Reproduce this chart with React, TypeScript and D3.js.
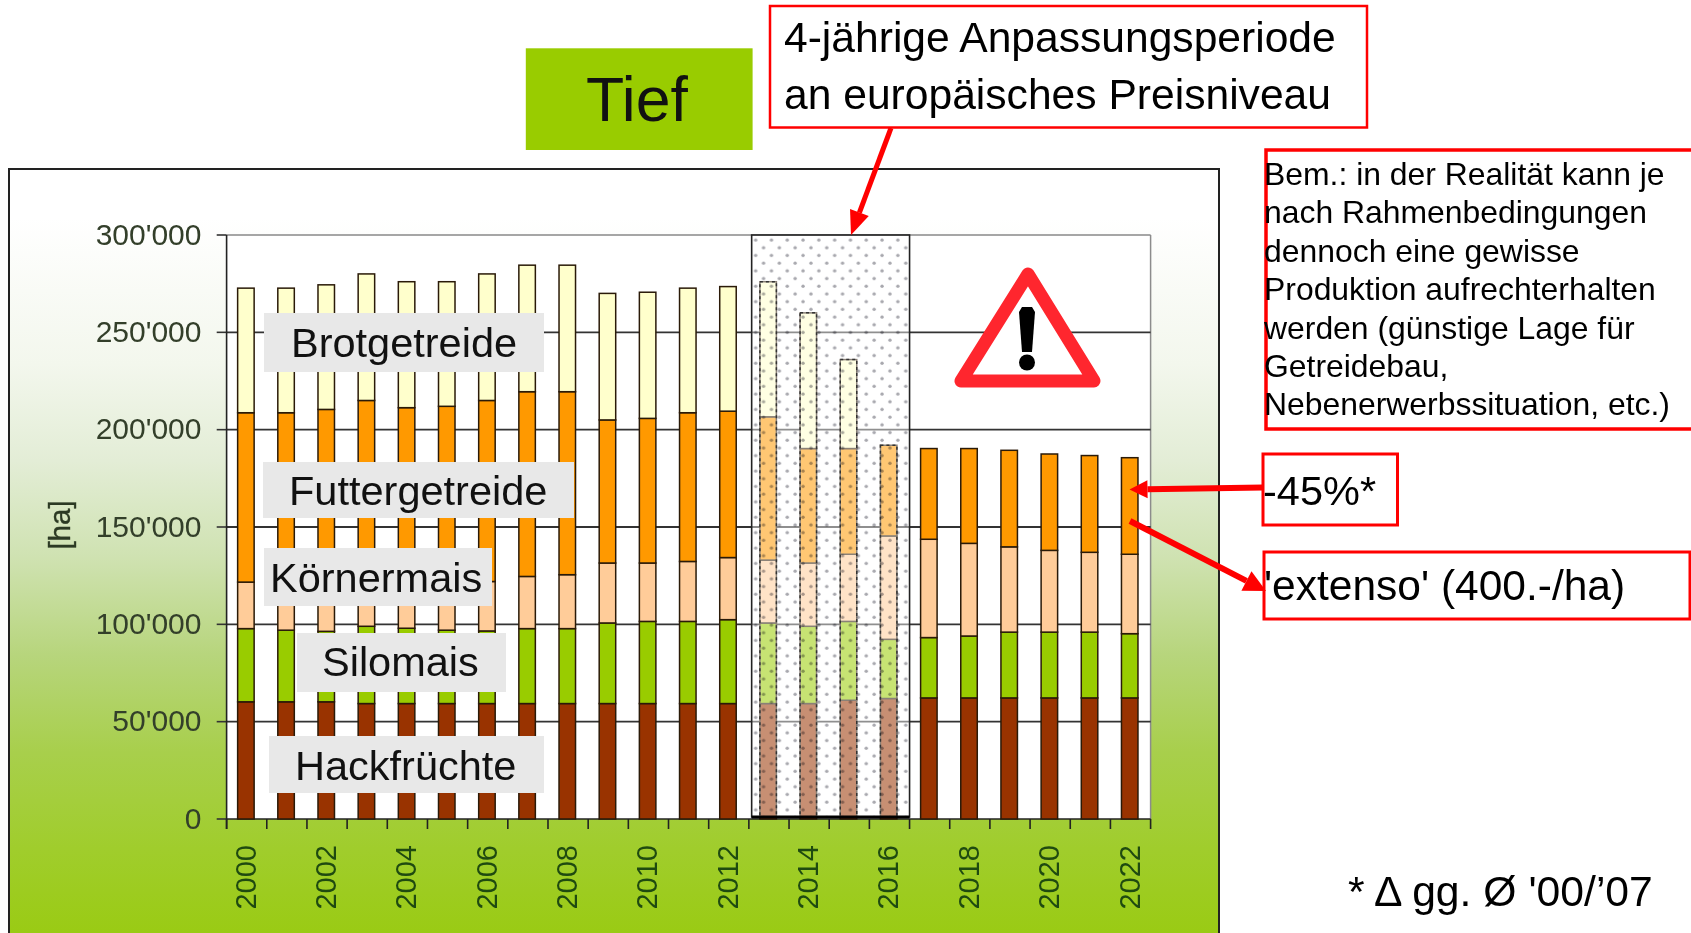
import React from "react";
import * as d3 from "d3";

const years = [2000,2001,2002,2003,2004,2005,2006,2007,2008,2009,2010,2011,2012,2013,2014,2015,2016,2017,2018,2019,2020,2021,2022];
const hackfruechte = [60200,60200,60200,59300,59300,59300,59300,59300,59300,59300,59300,59300,59300,59300,59300,61000,61900,62200,62200,62200,62200,62200,62200];
const silomais = [37600,36800,36200,39700,38700,37700,37300,38500,38500,41400,42200,42200,43100,41400,39700,40500,30400,31000,31800,33800,33800,33800,33000];
const koernermais = [23900,25000,25600,23000,24000,25000,25400,26800,27700,30800,30000,30800,31900,32300,32500,34500,53100,50500,47600,43800,42000,41000,40800];
const futtergetreide = [87000,86700,88400,93000,89300,90000,93000,94900,94000,73500,74300,76400,75200,73600,58800,54300,46600,46600,48700,49600,49500,49700,49600];
const brotgetreide = [64000,64000,64000,65000,64700,64000,65000,65000,65000,65000,64800,64000,64000,69400,69700,45700,0,0,0,0,0,0,0];

const seriesKeys = ["hack", "silo", "koerner", "futter", "brot"];
const seriesColors = ["#993300", "#99cc00", "#ffcc99", "#ff9900", "#ffffcc"];
const yTicks = [0, 50000, 100000, 150000, 200000, 250000, 300000];
const labelledYears = years.filter((y) => y % 2 === 0);
const transitionYears = [2013, 2014, 2015, 2016];

const cropLabels = [
  { text: "Brotgetreide", x0: 264, x1: 544, y0: 313, y1: 372, tx: 291, ty: 357 },
  { text: "Futtergetreide", x0: 263, x1: 574, y0: 462, y1: 518, tx: 289, ty: 505 },
  { text: "Körnermais", x0: 264, x1: 492, y0: 548, y1: 606, tx: 270, ty: 592 },
  { text: "Silomais", x0: 297, x1: 506, y0: 633, y1: 692, tx: 322, ty: 676 },
  { text: "Hackfrüchte", x0: 269, x1: 544, y0: 736, y1: 793, tx: 295, ty: 780 },
];
const noteLines = [
  "Bem.: in der Realität kann je",
  "nach Rahmenbedingungen",
  "dennoch eine gewisse",
  "Produktion aufrechterhalten",
  "werden (günstige Lage für",
  "Getreidebau,",
  "Nebenerwerbssituation, etc.)",
];

const FONT = "'Liberation Sans', Arial, sans-serif";
const RED = "#ff0000";

const tableRows = years.map((year, i) => ({
  year,
  hack: hackfruechte[i],
  silo: silomais[i],
  koerner: koernermais[i],
  futter: futtergetreide[i],
  brot: brotgetreide[i],
}));

const plot = { left: 226.6, right: 1150.6, top: 235, bottom: 819 };
const bandScale = d3.scaleBand<number>().domain(years).range([plot.left, plot.right]).padding(0);
const barWidth = 16.5;
const barX = (year: number) => bandScale(year)! + (bandScale.step() - barWidth) / 2 - 0.8;
const yScale = d3.scaleLinear().domain([0, 300000]).range([plot.bottom, plot.top]);
const stacked = d3.stack<any>().keys(seriesKeys)(tableRows);
const fmt = d3.formatLocale({ thousands: "'", grouping: [3], decimal: ".", currency: ["", ""] }).format(",");

function Arrow({ x1, y1, x2, y2, w = 5, head = 15, hw = 10 }: any) {
  const a = Math.atan2(y2 - y1, x2 - x1);
  const bx = x2 - head * Math.cos(a);
  const by = y2 - head * Math.sin(a);
  const nx = -Math.sin(a);
  const ny = Math.cos(a);
  return (
    <g>
      <line x1={x1} y1={y1} x2={bx} y2={by} stroke={RED} strokeWidth={w} />
      <polygon points={`${x2},${y2} ${bx + nx * hw},${by + ny * hw} ${bx - nx * hw},${by - ny * hw}`} fill={RED} />
    </g>
  );
}

export default function App() {
  const ovX0 = bandScale(2013)! + 2.8;
  const ovX1 = bandScale(2016)! + bandScale.step();
  return (
    <svg width={1691} height={933} style={{ position: "fixed", left: 0, top: 0, background: "#fff", fontFamily: FONT }}>
      <defs>
        <linearGradient id="panel" gradientUnits="userSpaceOnUse" x1="0" y1="168" x2="0" y2="933">
          <stop offset="0.065" stopColor="#ffffff" />
          <stop offset="0.256" stopColor="#f3f7ed" />
          <stop offset="0.383" stopColor="#e3edd6" />
          <stop offset="0.51" stopColor="#cfe2b1" />
          <stop offset="0.637" stopColor="#b7d57c" />
          <stop offset="0.763" stopColor="#a8cf4c" />
          <stop offset="0.89" stopColor="#a0cd2c" />
          <stop offset="1" stopColor="#9acb14" />
        </linearGradient>
        <pattern id="dots" patternUnits="userSpaceOnUse" x={ovX0} y={plot.top} width={15.8} height={15.4}>
          <circle cx={4} cy={5} r={1.7} fill="#a8a8ae" />
          <circle cx={11.9} cy={12.7} r={1.7} fill="#a8a8ae" />
        </pattern>
      </defs>

      <rect x={525.8} y={48.3} width={226.8} height={101.7} fill="#99cc00" />
      <text x={586} y={120.7} fontSize={62.5} fill="#111">Tief</text>

      <rect x={9} y={169} width={1210} height={780} fill="url(#panel)" stroke="#222" strokeWidth={2} />
      <rect x={plot.left} y={plot.top} width={plot.right - plot.left} height={plot.bottom - plot.top} fill="#fff" />

      <line x1={plot.left} x2={plot.right} y1={plot.top} y2={plot.top} stroke="#a6a6a6" strokeWidth={2} />
      <line x1={plot.right} x2={plot.right} y1={plot.top} y2={plot.bottom} stroke="#8c8c8c" strokeWidth={1.5} />
      {yTicks.map((t) => (
        <g key={t}>
          {t > 0 && t < 300000 && (
            <line x1={plot.left} x2={plot.right} y1={yScale(t)} y2={yScale(t)} stroke="#333" strokeWidth={1.8} />
          )}
          <line x1={216.7} x2={plot.left} y1={yScale(t)} y2={yScale(t)} stroke="#333" strokeWidth={1.6} />
          <text x={201.5} y={yScale(t) + 9.5} textAnchor="end" fontSize={30} fill="#333f2a">{fmt(t)}</text>
        </g>
      ))}
      <line x1={plot.left} x2={plot.left} y1={plot.top} y2={plot.bottom + 10} stroke="#222" strokeWidth={1.6} />
      <line x1={plot.left} x2={plot.right} y1={plot.bottom} y2={plot.bottom} stroke="#222" strokeWidth={1.6} />
      {years.concat([2023]).map((y, i) => {
        const x = plot.left + i * bandScale.step();
        return <line key={y} x1={x} x2={x} y1={plot.bottom} y2={plot.bottom + 10} stroke="#222" strokeWidth={1.6} />;
      })}
      {labelledYears.map((y) => {
        const cx = bandScale(y)! + bandScale.step() / 2 - 1.5;
        return (
          <text key={y} transform={`translate(${cx + 10.5},845) rotate(-90)`} textAnchor="end" fontSize={29} fill="#1f4a10">
            {y}
          </text>
        );
      })}
      <text transform="translate(70,525) rotate(-90)" textAnchor="middle" fontSize={29.5} fill="#2c3a24" stroke="#2c3a24" strokeWidth={0.4}>[ha]</text>

      {stacked.map((layer, s) => (
        <g key={layer.key}>
          {layer.map((d, i) =>
            d[1] > d[0] ? (
              <rect
                key={i}
                x={barX(years[i])}
                y={yScale(d[1])}
                width={barWidth}
                height={yScale(d[0]) - yScale(d[1])}
                fill={seriesColors[s]}
                stroke="#2a1a08"
                strokeWidth={1.5}
              />
            ) : null
          )}
        </g>
      ))}

      <rect x={ovX0} y={plot.top} width={ovX1 - ovX0} height={plot.bottom - plot.top - 2} fill="#ffffff" fillOpacity={0.45} />
      <rect x={ovX0} y={plot.top} width={ovX1 - ovX0} height={plot.bottom - plot.top - 2} fill="url(#dots)" style={{ mixBlendMode: "multiply" }} />
      {transitionYears.map((y) => {
        const i = years.indexOf(y);
        const top = stacked[4][i][1] > stacked[4][i][0] ? stacked[4][i][1] : stacked[3][i][1];
        return (
          <rect key={y} x={barX(y)} y={yScale(top)} width={barWidth} height={plot.bottom - yScale(top) - 2}
            fill="none" stroke="#333" strokeWidth={1.5} strokeDasharray="3 3" />
        );
      })}
      <rect x={ovX0} y={plot.top} width={ovX1 - ovX0} height={plot.bottom - plot.top - 2} fill="none" stroke="#222" strokeWidth={1.6} />
      <line x1={ovX0} x2={ovX1} y1={plot.bottom - 2} y2={plot.bottom - 2} stroke="#000" strokeWidth={3} />

      {cropLabels.map((l) => (
        <g key={l.text}>
          <rect x={l.x0} y={l.y0} width={l.x1 - l.x0} height={l.y1 - l.y0} fill="#e8e8e8" />
          <text x={l.tx} y={l.ty} fontSize={41.5} fill="#111">{l.text}</text>
        </g>
      ))}

      <polygon points="1028,274 961,381 1094,381" fill="#fff" stroke="#ff262e" strokeWidth={13} strokeLinejoin="round" />
      <polygon points="1019,312 1022,307 1032,307 1035,312 1032,352 1022,352" fill="#000" />
      <ellipse cx={1027} cy={362.5} rx={8} ry={8} fill="#000" />

      <rect x={770} y={6} width={597} height={121.5} fill="#fff" stroke={RED} strokeWidth={2.5} />
      <text x={784} y={51.7} fontSize={42.6} fill="#000">4-jährige Anpassungsperiode</text>
      <text x={784} y={109.3} fontSize={42.6} fill="#000">an europäisches Preisniveau</text>
      <Arrow x1={891} y1={128} x2={851} y2={235} w={5} head={24} hw={10} />

      <rect x={1266} y={150} width={430} height={279} fill="#fff" stroke={RED} strokeWidth={3.5} />
      {noteLines.map((line, i) => (
        <text key={i} x={1264} y={185 + i * 38.4} fontSize={31.9} fill="#000">{line}</text>
      ))}

      <rect x={1263} y={454} width={134.5} height={71} fill="#fff" stroke={RED} strokeWidth={3} />
      <text x={1263} y={505} fontSize={41.5} fill="#000">-45%*</text>
      <rect x={1264} y={552} width={426} height={67} fill="#fff" stroke={RED} strokeWidth={3} />
      <text x={1264} y={600} fontSize={42.5} fill="#000">'extenso' (400.-/ha)</text>
      <Arrow x1={1263} y1={487.5} x2={1129.5} y2={489.5} w={6} head={18} hw={9} />
      <Arrow x1={1130} y1={521} x2={1266} y2={591} w={6} head={22} hw={11} />

      <text x={1348} y={906} fontSize={42.7} fill="#000">* Δ gg. Ø '00/’07</text>
    </svg>
  );
}
